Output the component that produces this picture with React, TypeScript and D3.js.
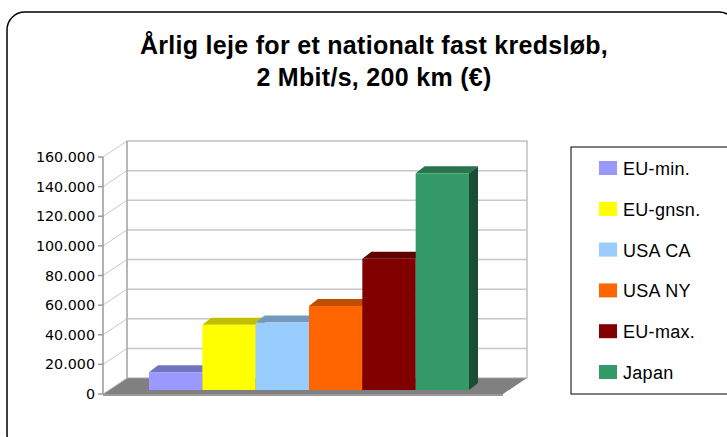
import React from "react";
import * as d3 from "d3";

const categories = ["EU-min.", "EU-gnsn.", "USA CA", "USA NY", "EU-max.", "Japan"];
const values = [12000, 44000, 45500, 56700, 88600, 146300];
const colors = ["#9999FF", "#FFFF00", "#99CCFF", "#FF6600", "#800000", "#339966"];
const yTicks = [0, 20000, 40000, 60000, 80000, 100000, 120000, 140000, 160000];
const titleLines = ["Årlig leje for et nationalt fast kredsløb,", "2 Mbit/s, 200 km (€)"];

const W = 727, H = 437;
const X0 = 103, X1 = 503; // floor front
const DX = 24, DY = -16;  // floor depth
const BF = 0.25;          // bar front depth fraction
const BDX = 9, BDY = -7;  // bar depth

const fmt = (v: number) => d3.format(",")(v).replace(/,/g, ".");

export default function App() {
  const y = d3.scaleLinear().domain([0, 160000]).range([394, 157]);
  const x = d3.scaleBand<string>().domain(categories).range([X0, X1]).paddingInner(0).paddingOuter(0.75);
  const shade = (c: string, k: number) => {
    const r = d3.rgb(c);
    return d3.rgb(r.r * k, r.g * k, r.b * k).formatHex();
  };
  const ox = DX * BF, oy = DY * BF;

  return (
    <svg width={W} height={H} style={{ position: "absolute", left: 0, top: 0, background: "#fff" }}>
      <rect x={7} y={12} width={730} height={440} rx={18} ry={18} fill="#fff" stroke="#000" strokeWidth={1.5} />
      <g fontFamily="'Liberation Sans', Arial, sans-serif" fontWeight="bold" fontSize={25} textAnchor="middle">
        {titleLines.map((t, i) => (
          <text key={i} x={374} y={54 + i * 32} letterSpacing={0.3}>{t}</text>
        ))}
      </g>
      {/* floor */}
      <path d={`M${X0},${y(0)}L${X1},${y(0)}L${X1 + DX},${y(0) + DY}L${X0 + DX},${y(0) + DY}Z`} fill="#808080" />
      <rect x={X0} y={y(0)} width={X1 - X0} height={2} fill="#9a9a9a" />
      {/* back wall */}
      <rect x={X0 + DX} y={y(160000) + DY} width={X1 - X0} height={y(0) - y(160000)} fill="none" stroke="#a0a0a0" strokeWidth={1} />
      {yTicks.slice(1, -1).map((t) => (
        <line key={"g" + t} x1={X0 + DX} x2={X1 + DX} y1={y(t) + DY} y2={y(t) + DY} stroke="#c8c8c8" strokeWidth={1.5} />
      ))}
      {yTicks.map((t) => (
        <line key={"s" + t} x1={X0} y1={y(t)} x2={X0 + DX} y2={y(t) + DY} stroke="#c8c8c8" strokeWidth={1} />
      ))}
      <line x1={X0 + DX} x2={X0 + DX} y1={y(0) + DY} y2={y(160000) + DY} stroke="#a0a0a0" />
      {/* front axis */}
      <line x1={X0} x2={X0} y1={y(0)} y2={y(160000)} stroke="#999" strokeWidth={1.5} />
      {yTicks.map((t) => (
        <g key={"t" + t}>
          <line x1={X0 - 5} x2={X0} y1={y(t)} y2={y(t)} stroke="#999" strokeWidth={1.5} />
          <text x={95} y={y(t) + 5} textAnchor="end" fontFamily="'DejaVu Sans', sans-serif" fontSize={14.3} fill="#000">{fmt(t)}</text>
        </g>
      ))}
      {/* bars */}
      {categories.map((c, i) => {
        const bx = (x(c) as number) + ox;
        const bw = x.bandwidth();
        const by0 = y(0) + oy;
        const by1 = y(values[i]) + oy;
        return (
          <g key={c}>
            <path d={`M${bx},${by1}L${bx + bw},${by1}L${bx + bw + BDX},${by1 + BDY}L${bx + BDX},${by1 + BDY}Z`} fill={shade(colors[i], 0.75)} />
            <path d={`M${bx + bw},${by1}L${bx + bw + BDX},${by1 + BDY}L${bx + bw + BDX},${by0 + BDY}L${bx + bw},${by0}Z`} fill={shade(colors[i], 0.5)} />
            <rect x={bx} y={by1} width={bw} height={by0 - by1} fill={colors[i]} />
          </g>
        );
      })}
      {/* legend */}
      <rect x={571} y={147} width={170} height={247} fill="#fff" stroke="#000" strokeWidth={1} />
      {categories.map((c, i) => {
        const cy = 168 + i * 40.8;
        return (
          <g key={"l" + c}>
            <rect x={599} y={cy - 7} width={18} height={14} fill={colors[i]} />
            <text x={623} y={cy + 7} fontFamily="'Liberation Sans', Arial, sans-serif" fontSize={18} letterSpacing={0.3} fill="#000">{c}</text>
          </g>
        );
      })}
    </svg>
  );
}
